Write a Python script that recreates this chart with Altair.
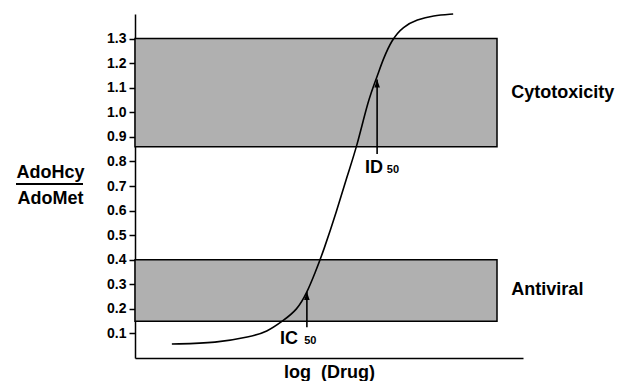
import altair as alt
import pandas as pd

FONT = "Liberation Sans"

# Dose-response curve (log drug units, AdoHcy/AdoMet ratio)
drug_x = [0.95, 2.11, 2.96, 3.40, 3.81, 4.18, 4.43, 4.64, 4.85, 5.21, 5.46,
          5.72, 6.01, 6.24, 6.39, 6.62, 6.91, 7.27, 7.68, 8.20]
ratio_y = [0.057, 0.061, 0.086, 0.106, 0.151, 0.196, 0.265, 0.346, 0.432, 0.603,
           0.738, 0.860, 1.051, 1.145, 1.214, 1.296, 1.349, 1.377, 1.394, 1.400]

# Shaded zones
band_names = ["Cytotoxicity", "Antiviral"]
band_low = [0.86, 0.15]
band_high = [1.30, 0.40]
band_x_end = 9.33
band_label_x = 9.70

# Arrows (IC50 and ID50)
arrow_names = ["IC", "ID"]
arrow_x = [4.43, 6.24]
arrow_base = [0.125, 0.83]
arrow_tip = [0.269, 1.133]
label_main_x = [4.20, 6.39]
label_sub_x = [4.36, 6.49]
label_y = [0.057, 0.754]

y_ticks = [0.1, 0.2, 0.3, 0.4, 0.5, 0.6, 0.7, 0.8, 0.9, 1.0, 1.1, 1.2, 1.3]

curve = pd.DataFrame({"x": drug_x, "y": ratio_y})
bands = pd.DataFrame({
    "name": band_names,
    "x0": [0.0, 0.0],
    "x1": [band_x_end, band_x_end],
    "lo": band_low,
    "hi": band_high,
    "lx": [band_label_x, band_label_x],
})
bands["mid"] = (bands["lo"] + bands["hi"]) / 2
arrows = pd.DataFrame({
    "name": arrow_names,
    "x": arrow_x,
    "base": arrow_base,
    "tip": arrow_tip,
    "mx": label_main_x,
    "sx": label_sub_x,
    "ly": label_y,
})

xs = alt.Scale(domain=[0, 10], nice=False)
ys = alt.Scale(domain=[0, 1.4], nice=False)

x_axis = alt.Axis(
    title="log\u00a0\u00a0(Drug)", ticks=False, labels=False, grid=False,
    domainColor="black", domainWidth=1.5,
    titleFont=FONT, titleFontSize=18, titleFontWeight="bold",
    titleColor="black", titlePadding=5,
)
y_axis = alt.Axis(
    title=["AdoHcy", "AdoMet"], values=y_ticks, tickCount=30, format=".1f",
    grid=False, labelOverlap=False,
    domainColor="black", domainWidth=1.5, tickColor="black", tickWidth=1.5,
    tickSize=6, labelFont=FONT, labelFontSize=14, labelFontWeight="bold",
    labelColor="black", labelPadding=3,
    titleFont=FONT, titleFontSize=18, titleFontWeight="bold", titleColor="black",
    titleAngle=0, titleAlign="center", titleBaseline="middle",
    titleX=-85, titleY=158, titleLineHeight=26,
)

band_layer = alt.Chart(bands).mark_rect(
    fill="#b0b0b0", stroke="black", strokeWidth=1.5
).encode(
    x=alt.X("x0:Q", scale=xs, axis=x_axis),
    x2="x1:Q",
    y=alt.Y("lo:Q", scale=ys, axis=y_axis),
    y2="hi:Q",
)

band_text = alt.Chart(bands).mark_text(
    align="left", baseline="middle", font=FONT, fontSize=18,
    fontWeight="bold", color="black",
).encode(
    x=alt.X("lx:Q", scale=xs), y=alt.Y("mid:Q", scale=ys), text="name:N"
)

curve_layer = alt.Chart(curve).mark_line(
    color="black", strokeWidth=1.6, interpolate="basis", clip=False
).encode(
    x=alt.X("x:Q", scale=xs), y=alt.Y("y:Q", scale=ys), order="x:Q"
)

shaft = alt.Chart(arrows).mark_rule(color="black", strokeWidth=1.6).encode(
    x=alt.X("x:Q", scale=xs), y=alt.Y("base:Q", scale=ys), y2="tip:Q"
)
head = alt.Chart(arrows).mark_point(
    shape="M0,-1L0.7,1L-0.7,1Z", filled=True, color="black", opacity=1,
    size=64, yOffset=4,
).encode(x=alt.X("x:Q", scale=xs), y=alt.Y("tip:Q", scale=ys))

main_lbl = alt.Chart(arrows).mark_text(
    align="right", baseline="alphabetic", font=FONT, fontSize=18,
    fontWeight="bold", color="black",
).encode(x=alt.X("mx:Q", scale=xs), y=alt.Y("ly:Q", scale=ys), text="name:N")

sub_lbl = alt.Chart(arrows).mark_text(
    align="left", baseline="alphabetic", font=FONT, fontSize=11,
    fontWeight="bold", color="black",
).encode(
    x=alt.X("sx:Q", scale=xs), y=alt.Y("ly:Q", scale=ys), text=alt.value("50")
)

frac_bar = alt.Chart(pd.DataFrame({"k": [0]})).mark_rule(
    color="black", strokeWidth=2
).encode(x=alt.value(-119), x2=alt.value(-52), y=alt.value(170))

chart = alt.layer(
    band_layer, curve_layer, shaft, head, main_lbl, sub_lbl, band_text, frac_bar
).properties(
    width=388, height=344,
    autosize=alt.AutoSizeParams(type="none"),
    padding={"left": 127, "top": 6, "right": 93, "bottom": 23},
).configure_view(
    stroke=None, strokeWidth=0
).configure_axis(
    grid=False
)

chart.save("out.html", embed_options={"renderer": "svg", "actions": False})
